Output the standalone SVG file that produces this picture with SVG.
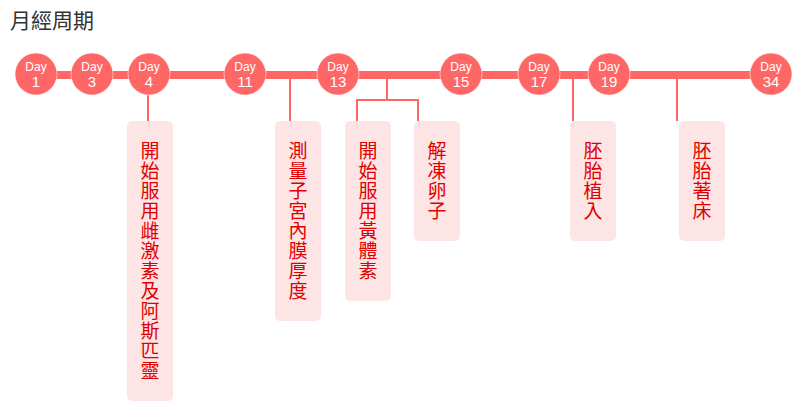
<svg xmlns="http://www.w3.org/2000/svg" width="801" height="411" viewBox="0 0 801 411">
<style>
.title{font-family:"Noto Sans CJK TC","Noto Sans CJK SC",sans-serif;font-size:21px;fill:#333}
.dot{fill:#ff6666;stroke:#fff;stroke-opacity:0.5;stroke-width:1}
.d1{font-family:"Liberation Sans",Arial,sans-serif;font-size:12px;fill:#fff;text-anchor:middle}
.d2{font-family:"Liberation Sans",Arial,sans-serif;font-size:15px;fill:#fff;text-anchor:middle}
.box{fill:#fde5e5}
.lbl{font-family:"Noto Sans CJK TC","Noto Sans CJK SC",sans-serif;font-size:19px;letter-spacing:1px;fill:#e00000;writing-mode:vertical-rl;text-orientation:upright}
.conn{fill:none;stroke:#ff6666;stroke-width:2}
</style>
<rect width="801" height="411" fill="#fff"/>
<text class="title" x="10" y="28">月經周期</text>
<g id="connectors">
<line x1="36" y1="75" x2="771" y2="75" stroke="#ff6666" stroke-width="8"/>
<path class="conn" d="M148 79V121"/>
<path class="conn" d="M290 79V121"/>
<path class="conn" d="M387 79V100M357 121V100H418V121"/>
<path class="conn" d="M573 79V121"/>
<path class="conn" d="M677 79V121"/>
</g>
<g id="day1"><circle class="dot" cx="36" cy="74" r="21"/><text class="d1" x="36" y="71">Day</text><text class="d2" x="36" y="87">1</text></g>
<g id="day3"><circle class="dot" cx="92" cy="74" r="21"/><text class="d1" x="92" y="71">Day</text><text class="d2" x="92" y="87">3</text></g>
<g id="day4"><circle class="dot" cx="149" cy="74" r="21"/><text class="d1" x="149" y="71">Day</text><text class="d2" x="149" y="87">4</text></g>
<g id="day11"><circle class="dot" cx="245" cy="74" r="21"/><text class="d1" x="245" y="71">Day</text><text class="d2" x="245" y="87">11</text></g>
<g id="day13"><circle class="dot" cx="338" cy="74" r="21"/><text class="d1" x="338" y="71">Day</text><text class="d2" x="338" y="87">13</text></g>
<g id="day15"><circle class="dot" cx="461" cy="74" r="21"/><text class="d1" x="461" y="71">Day</text><text class="d2" x="461" y="87">15</text></g>
<g id="day17"><circle class="dot" cx="539" cy="74" r="21"/><text class="d1" x="539" y="71">Day</text><text class="d2" x="539" y="87">17</text></g>
<g id="day19"><circle class="dot" cx="609" cy="74" r="21"/><text class="d1" x="609" y="71">Day</text><text class="d2" x="609" y="87">19</text></g>
<g id="day34"><circle class="dot" cx="771" cy="74" r="21"/><text class="d1" x="771" y="71">Day</text><text class="d2" x="771" y="87">34</text></g>
<g id="n1"><rect class="box" x="127" y="121" width="46" height="280" rx="5"/>
<text class="lbl" x="150" y="141">開始服用雌激素及阿斯匹靈</text></g>
<g id="n2"><rect class="box" x="275" y="121" width="46" height="200" rx="5"/>
<text class="lbl" x="298" y="141">測量子宮內膜厚度</text></g>
<g id="n3"><rect class="box" x="345" y="121" width="46" height="180" rx="5"/>
<text class="lbl" x="368" y="141">開始服用黃體素</text></g>
<g id="n4"><rect class="box" x="414" y="121" width="46" height="120" rx="5"/>
<text class="lbl" x="437" y="141">解凍卵子</text></g>
<g id="n5"><rect class="box" x="570" y="121" width="46" height="120" rx="5"/>
<text class="lbl" x="593" y="141">胚胎植入</text></g>
<g id="n6"><rect class="box" x="679" y="121" width="46" height="120" rx="5"/>
<text class="lbl" x="702" y="141">胚胎著床</text></g>
</svg>
